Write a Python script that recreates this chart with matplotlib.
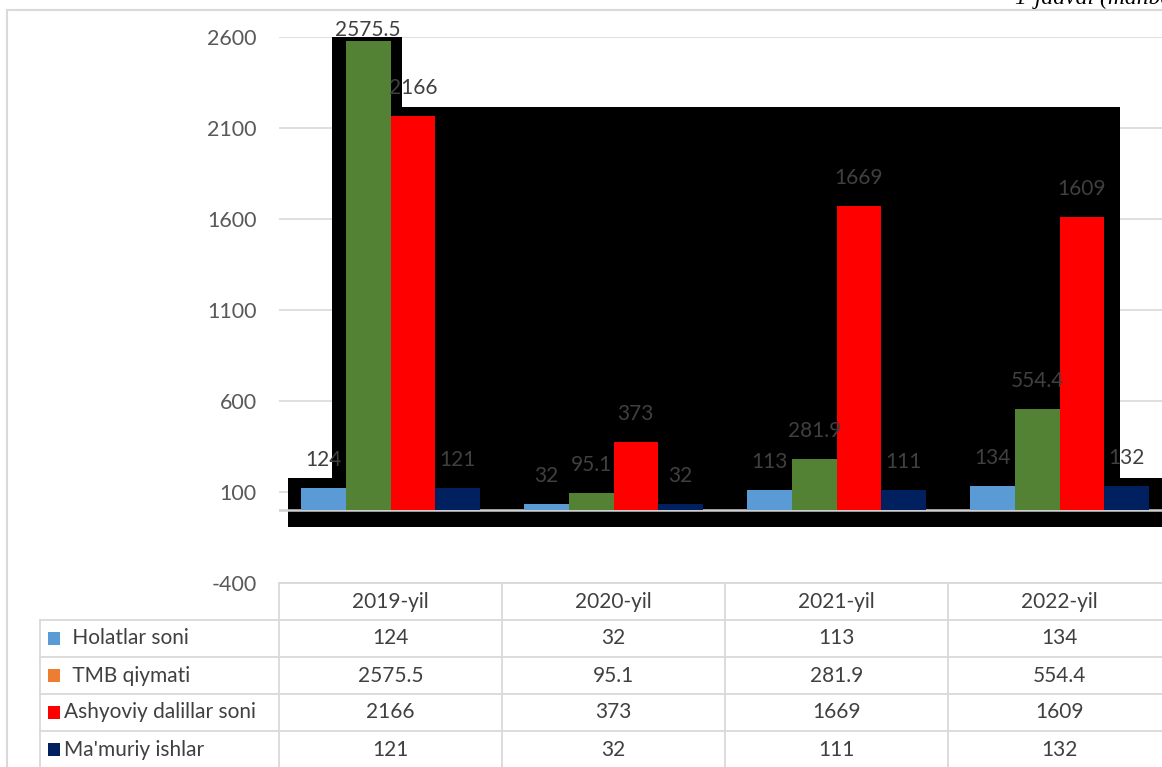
import numpy as np
import matplotlib
matplotlib.use("Agg")
import matplotlib.pyplot as plt
from matplotlib.patches import Polygon, Rectangle
from matplotlib.lines import Line2D

# ── Data ────────────────────────────────────────────────
years = ["2019-yil", "2020-yil", "2021-yil", "2022-yil"]
series_names = ["Holatlar soni", "TMB qiymati", "Ashyoviy dalillar soni", "Ma'muriy ishlar"]
holatlar = [124, 32, 113, 134]
tmb = [2575.5, 95.1, 281.9, 554.4]
ashyoviy = [2166, 373, 1669, 1609]
mamuriy = [121, 32, 111, 132]
y_ticks = [-400, 100, 600, 1100, 1600, 2100, 2600]

series = [holatlar, tmb, ashyoviy, mamuriy]
bar_colors = ["#5B9BD5", "#548235", "#FF0000", "#002060"]
key_colors = ["#5B9BD5", "#ED7D31", "#FF0000", "#002060"]
labels_txt = [["124", "32", "113", "134"], ["2575.5", "95.1", "281.9", "554.4"],
              ["2166", "373", "1669", "1609"], ["121", "32", "111", "132"]]

plt.rcParams["font.family"] = ["Lato", "DejaVu Sans"]
plt.rcParams["axes.unicode_minus"] = False
FS = 15
GREY_TXT = "#404040"
GRID = "#D9D9D9"

W, H = 1162, 767
fig = plt.figure(figsize=(W / 100, H / 100), dpi=100)

def fx(px):
    return px / W

def fy(py):
    return 1 - py / H

# ── Main bar axes ───────────────────────────────────────
left, right, top, bottom = 279, 1171, 37, 583
ax = fig.add_axes([fx(left), fy(bottom), fx(right - left), (bottom - top) / H])
ax.set_xlim(-0.5, 3.5)
ax.set_ylim(-400, 2600)
for s in ax.spines.values():
    s.set_visible(False)
ax.set_xticks([])
ax.set_yticks(y_ticks)
ax.tick_params(axis="y", length=0, pad=16, labelsize=15.5, labelcolor="#595959")
for t in y_ticks:
    ax.axhline(t, color=GRID, lw=1.2, zorder=0)

# black backdrop (rendering artefact in the original)
shadow = [(-0.46, -93), (-0.46, 176), (-0.262, 176), (-0.262, 2600), (0.052, 2600),
          (0.052, 2214), (3.271, 2214), (3.271, 176), (3.6, 176), (3.6, -93)]
ax.add_patch(Polygon(shadow, closed=True, facecolor="black", edgecolor="none", zorder=1))
ax.axhline(0, color="#D0D0D0", lw=1.8, zorder=2)

x = np.arange(len(years))
bw = 0.2
offsets = [-0.3, -0.1, 0.1, 0.3]
for vals, col, off, txts in zip(series, bar_colors, offsets, labels_txt):
    ax.bar(x + off, vals, width=bw, color=col, zorder=3)
    for xi, v, t in zip(x, vals, txts):
        # labels that would run past the top are pushed down onto the bar
        dy = 13 if v < 2450 else 1
        ax.annotate(t, (xi + off, v), xytext=(0, dy), textcoords="offset points",
                    ha="center", va="bottom", fontsize=FS, color=GREY_TXT, zorder=4)

# ── Data table below ────────────────────────────────────
tl, tt, tb = 38, 583, 768
tax = fig.add_axes([fx(tl), fy(tb), fx(right - tl), (tb - tt) / H])
x0 = -0.5 - (left - tl) / 223.0
tax.set_xlim(x0, 3.5)
tax.set_ylim(5, 0)
tax.axis("off")

lw = 1.3
tax.plot([-0.5, 3.5], [0, 0], color=GRID, lw=lw, clip_on=False)
for r in range(1, 5):
    tax.plot([x0 + 0.01, 3.5], [r, r], color=GRID, lw=lw, clip_on=False)
tax.plot([x0 + 0.01, x0 + 0.01], [1, 5], color=GRID, lw=lw, clip_on=False)
for c in range(5):
    tax.plot([c - 0.5, c - 0.5], [0, 5], color=GRID, lw=lw, clip_on=False)

for c, yr in enumerate(years):
    tax.text(c, 0.5, yr, ha="center", va="center", fontsize=FS, color=GREY_TXT)
for r, (name, kc, txts) in enumerate(zip(series_names, key_colors, labels_txt)):
    yy = r + 1.5
    tax.add_patch(Rectangle((x0 + 0.045, yy - 0.17), 0.055, 0.34,
                            facecolor=kc, edgecolor="none", clip_on=False))
    pad = 0.13 if r in (0, 1) else 0.115
    tax.text(x0 + pad, yy, (" " if r in (0, 1) else "") + name, ha="left", va="center",
             fontsize=FS, color=GREY_TXT)
    for c, t in enumerate(txts):
        tax.text(c, yy, t, ha="center", va="center", fontsize=FS, color=GREY_TXT)

# ── Chart frame & caption ───────────────────────────────
fig.add_artist(Line2D([fx(7), fx(7)], [fy(10), 0], color=GRID, lw=1.5))
fig.add_artist(Line2D([fx(7), 1], [fy(10), fy(10)], color=GRID, lw=1.5))
fig.text(fx(1015), fy(4), "1-jadval (manba", fontsize=17, style="italic",
         family="Liberation Serif", va="baseline", ha="left", color="black")

fig.savefig("out.png", dpi=100)
